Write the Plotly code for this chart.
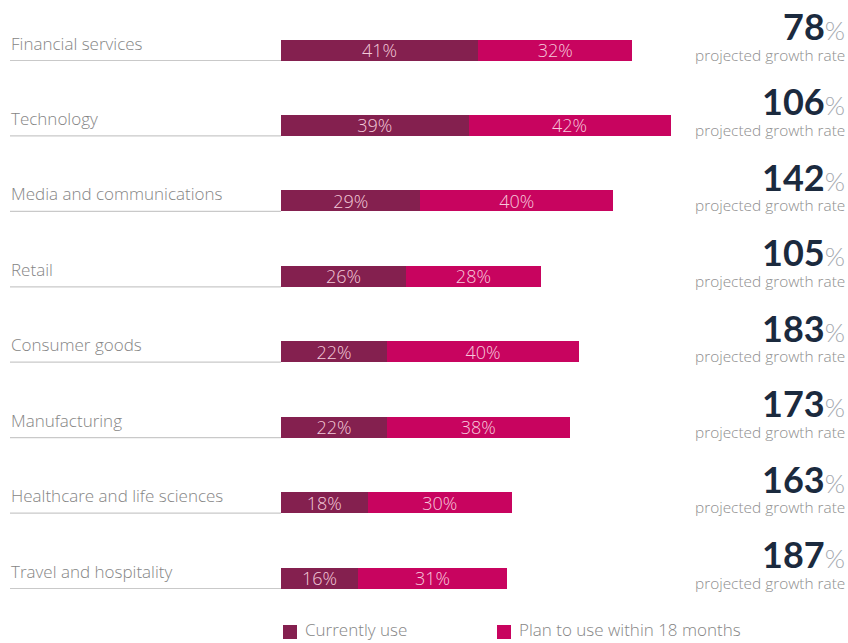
import plotly.graph_objects as go

categories = [
    "Financial services",
    "Technology",
    "Media and communications",
    "Retail",
    "Consumer goods",
    "Manufacturing",
    "Healthcare and life sciences",
    "Travel and hospitality",
]
current_use = [41, 39, 29, 26, 22, 22, 18, 16]
plan_to_use = [32, 42, 40, 28, 40, 38, 30, 31]
growth_rate = [78, 106, 142, 105, 183, 173, 163, 187]

W, H = 848, 643
DARK = "#84204f"
BRIGHT = "#c8045f"
LABEL_GREY = "#858585"
NAVY = "#1b2a3e"
FONT = "Open Sans"
NUM_FONT = "Lato"

px_per_pct = 4.81
bar_left = 281
row_top_center = 50
row_step = 75.43
bar_h = 21

ypos = list(range(len(categories)))
x_range_max = (W - bar_left) / px_per_pct
y_top = 0 - row_top_center / row_step
y_bottom = y_top + H / row_step
bar_width = bar_h / row_step

fig = go.Figure()
fig.add_trace(go.Bar(
    y=ypos, x=current_use, orientation="h", name="Currently use",
    marker=dict(color=DARK, line=dict(width=0)), width=bar_width,
    text=[f"{v}%" for v in current_use], textposition="inside", constraintext="none",
    insidetextanchor="middle",
    textfont=dict(color="#f3c9d9", size=18, family=FONT, weight=300),
    showlegend=False, hoverinfo="skip",
))
fig.add_trace(go.Bar(
    y=ypos, x=plan_to_use, orientation="h", name="Plan to use within 18 months",
    marker=dict(color=BRIGHT, line=dict(width=0)), width=bar_width,
    text=[f"{v}%" for v in plan_to_use], textposition="inside", constraintext="none",
    insidetextanchor="middle",
    textfont=dict(color="#f7c8dc", size=18, family=FONT, weight=300),
    showlegend=False, hoverinfo="skip",
))

annotations = []
shapes = []
for i, cat in enumerate(categories):
    # category label with underline running to the bar
    annotations.append(dict(
        x=9 / W, y=i, xref="paper", yref="y", text=cat, showarrow=False,
        xanchor="left", yanchor="middle", yshift=7,
        font=dict(size=17, color=LABEL_GREY, family=FONT, weight=300),
    ))
    shapes.append(dict(
        type="line", xref="paper", yref="y",
        x0=10 / W, x1=bar_left / W, y0=i + bar_width / 2, y1=i + bar_width / 2,
        line=dict(color="#c9c9c9", width=1.2),
    ))
    # projected growth figure
    annotations.append(dict(
        x=847 / W, y=i, xref="paper", yref="y",
        text=f"<b>{growth_rate[i]}</b><span style='font-size:26px;color:#a5a9b0;font-weight:300'>%</span>",
        showarrow=False, xanchor="right", yanchor="middle", yshift=24,
        font=dict(size=36, color=NAVY, family=NUM_FONT),
    ))
    annotations.append(dict(
        x=847 / W, y=i, xref="paper", yref="y", text="projected growth rate",
        showarrow=False, xanchor="right", yanchor="middle", yshift=-5,
        font=dict(size=15.4, color="#8e8e8e", family=FONT, weight=300),
    ))

# legend
legend_items = [("Currently use", DARK, 283), ("Plan to use within 18 months", BRIGHT, 497)]
for label, color, x0 in legend_items:
    shapes.append(dict(
        type="rect", xref="paper", yref="paper",
        x0=x0 / W, x1=(x0 + 14) / W, y0=1 - 639 / H, y1=1 - 625 / H,
        fillcolor=color, line=dict(width=0),
    ))
    annotations.append(dict(
        x=(x0 + 20) / W, y=0, xref="paper", yref="paper", text=label,
        showarrow=False, xanchor="left", yanchor="bottom",
        font=dict(size=17, color=LABEL_GREY, family=FONT, weight=300),
    ))

fig.update_layout(
    width=W, height=H, barmode="stack",
    margin=dict(l=0, r=0, t=0, b=0),
    paper_bgcolor="white", plot_bgcolor="white",
    xaxis=dict(domain=[bar_left / W, 1], range=[0, x_range_max], visible=False, fixedrange=True),
    yaxis=dict(range=[y_bottom, y_top], visible=False, fixedrange=True),
    annotations=annotations, shapes=shapes,
    font=dict(family=FONT),
)

fig.write_html("out.html")
